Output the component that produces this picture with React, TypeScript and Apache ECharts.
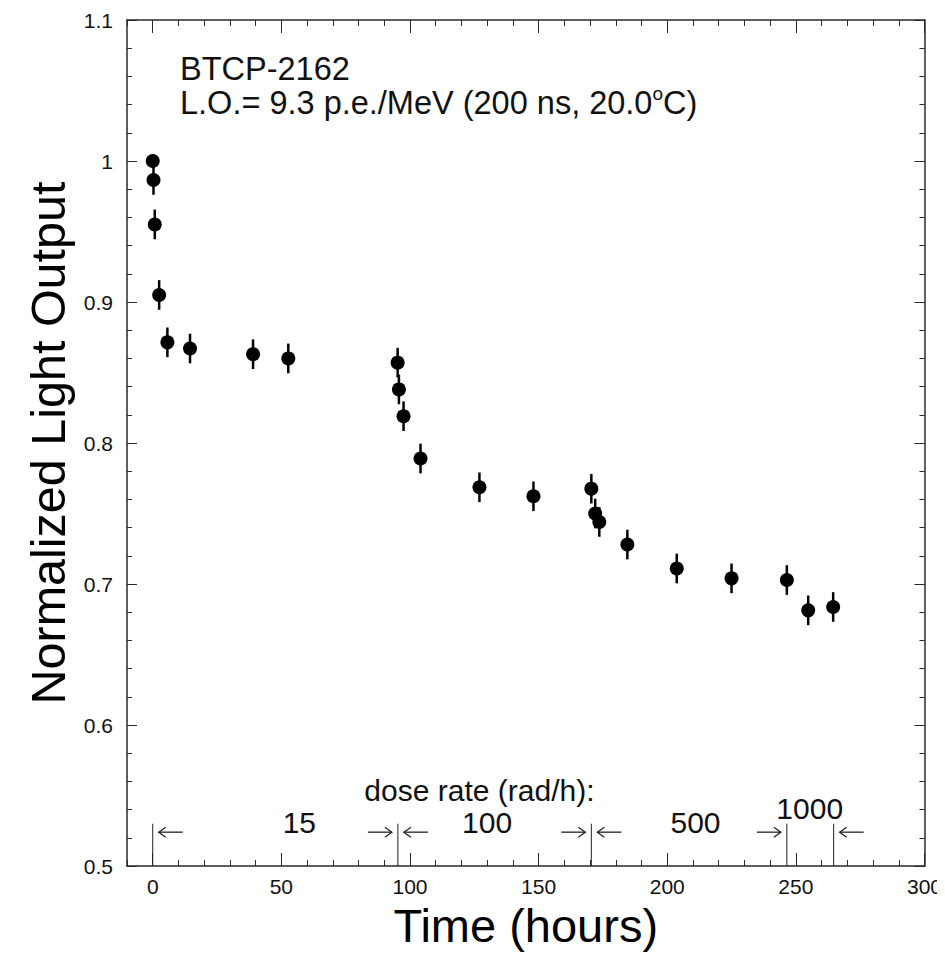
import React, { useEffect, useRef } from "react";
import * as echarts from "echarts";

// ---- data ----
const hours = [0, 0.3, 0.8, 2.5, 5.7, 14.5, 39, 52.7, 95.2, 95.7, 97.5, 104.1, 127, 148, 170.5, 172, 173.6, 184.5, 203.7, 225, 246.5, 254.8, 264.5];
const lightOutput = [1.0, 0.9865, 0.955, 0.905, 0.8714, 0.867, 0.863, 0.86, 0.857, 0.838, 0.819, 0.789, 0.7686, 0.7622, 0.7676, 0.75, 0.744, 0.728, 0.711, 0.704, 0.7028, 0.6813, 0.6837];
const errors = [0.004, 0.0105, 0.0105, 0.0105, 0.0105, 0.0105, 0.0105, 0.0105, 0.0105, 0.0105, 0.0105, 0.0105, 0.0105, 0.0105, 0.0105, 0.0105, 0.0105, 0.0105, 0.0105, 0.0105, 0.0105, 0.0105, 0.0105];

const doseBoundaries = [0, 95.3, 170.5, 246.5, 264.7];
const boundaryTop = 0.53;
const arrowX = [0, 95.3, 95.3, 170.5, 170.5, 246.5, 264.7];
const arrowSide = [1, -1, 1, -1, 1, -1, 1];
const arrowY = 0.524;

const doseLabels = ["dose rate (rad/h):", "15", "100", "500", "1000"];
const doseLabelX = [127, 57, 130, 211, 255.4];
const doseLabelY = [0.5535, 0.5305, 0.5305, 0.5305, 0.541];

const xMajorTicks = [0, 50, 100, 150, 200, 250, 300];
const yMajorTicks = [0.5, 0.6, 0.7, 0.8, 0.9, 1.0, 1.1];

const titleLine1 = "BTCP-2162";
const titleLine2 = ["L.O.= 9.3 p.e./MeV (200 ns, 20.0", "o", "C)"];

const FONT = "Liberation Sans";
const AX = "#2a2a2a";

export default function App() {
  const ref = useRef<HTMLDivElement>(null);
  useEffect(() => {
    if (!ref.current) return;
    const chart = echarts.init(ref.current, undefined, { renderer: "svg" });

    const xBase = { type: "value", min: -10, max: 300, splitLine: { show: false } };
    const yBase = { type: "value", min: 0.5, max: 1.1, splitLine: { show: false } };
    const lineOn = { show: true, onZero: false, lineStyle: { color: AX, width: 1.5 } };
    const lineOff = { show: false, onZero: false };

    const option: any = {
      animation: false,
      backgroundColor: "#fff",
      textStyle: { fontFamily: FONT },
      grid: { left: 127, right: 17, top: 20, bottom: 99, containLabel: false },
      xAxis: [
        {
          ...xBase,
          position: "bottom",
          interval: 10,
          axisLine: lineOn,
          axisTick: { show: true, inside: true, length: 6, lineStyle: { color: AX, width: 1 } },
          axisLabel: {
            show: true,
            formatter: (v: number) => (Math.abs(v % 50) < 1e-6 ? String(v) : ""),
            fontSize: 21,
            color: "#111",
            margin: 10,
            fontFamily: FONT,
          },
          name: "Time (hours)",
          nameLocation: "middle",
          nameGap: 32,
          nameTextStyle: { fontSize: 47, color: "#000", fontFamily: FONT },
        },
        {
          ...xBase,
          position: "bottom",
          axisLine: lineOff,
          axisTick: { show: true, inside: true, length: 13, customValues: xMajorTicks, lineStyle: { color: AX, width: 1 } },
          axisLabel: { show: false },
        },
        {
          ...xBase,
          position: "top",
          interval: 10,
          axisLine: lineOn,
          axisTick: { show: true, inside: true, length: 6, lineStyle: { color: AX, width: 1 } },
          axisLabel: { show: false },
        },
        {
          ...xBase,
          position: "top",
          axisLine: lineOff,
          axisTick: { show: true, inside: true, length: 13, customValues: xMajorTicks, lineStyle: { color: AX, width: 1 } },
          axisLabel: { show: false },
        },
      ],
      yAxis: [
        {
          ...yBase,
          position: "left",
          interval: 0.02,
          axisLine: lineOn,
          axisTick: { show: true, inside: true, length: 5, lineStyle: { color: AX, width: 1 } },
          axisLabel: {
            show: true,
            formatter: (v: number) => {
              const t = v * 10;
              return Math.abs(t - Math.round(t)) < 1e-6 ? String(Math.round(t) / 10) : "";
            },
            fontSize: 21,
            color: "#111",
            margin: 14,
            fontFamily: FONT,
          },
          name: "Normalized Light Output",
          nameLocation: "middle",
          nameGap: 54,
          nameTextStyle: { fontSize: 48.5, color: "#000", fontFamily: FONT },
        },
        {
          ...yBase,
          position: "left",
          axisLine: lineOff,
          axisTick: { show: true, inside: true, length: 10, customValues: yMajorTicks, lineStyle: { color: AX, width: 1 } },
          axisLabel: { show: false },
        },
        {
          ...yBase,
          position: "right",
          interval: 0.02,
          axisLine: lineOn,
          axisTick: { show: true, inside: true, length: 5, lineStyle: { color: AX, width: 1 } },
          axisLabel: { show: false },
        },
        {
          ...yBase,
          position: "right",
          axisLine: lineOff,
          axisTick: { show: true, inside: true, length: 10, customValues: yMajorTicks, lineStyle: { color: AX, width: 1 } },
          axisLabel: { show: false },
        },
      ],
      graphic: [
        {
          type: "text",
          left: 180,
          top: 52,
          style: { text: titleLine1, font: `32.5px "${FONT}"`, fill: "#111" },
        },
        {
          type: "text",
          left: 180,
          top: 84,
          style: {
            text: `{a|${titleLine2[0]}}{s|${titleLine2[1]}}{a|${titleLine2[2]}}`,
            fill: "#111",
            rich: {
              a: { fontSize: 32.5, fontFamily: FONT, fill: "#111", verticalAlign: "bottom" },
              s: { fontSize: 19, fontFamily: FONT, fill: "#111", verticalAlign: "top", padding: [0, 0, 16, 0] },
            },
          },
        },
      ],
      series: [
        {
          type: "custom",
          name: "errors",
          xAxisIndex: 0,
          yAxisIndex: 0,
          data: hours.map((h, i) => [h, lightOutput[i], errors[i]]),
          renderItem: (params: any, api: any) => {
            const x = api.value(0);
            const y = api.value(1);
            const e = api.value(2);
            const lo = api.coord([x, y - e]);
            const hi = api.coord([x, y + e]);
            return {
              type: "line",
              shape: { x1: lo[0], y1: lo[1], x2: hi[0], y2: hi[1] },
              style: { stroke: "#000", lineWidth: 2.5 },
            };
          },
          z: 2,
        },
        {
          type: "scatter",
          name: "data",
          xAxisIndex: 0,
          yAxisIndex: 0,
          data: hours.map((h, i) => [h, lightOutput[i]]),
          symbol: "circle",
          symbolSize: 14,
          itemStyle: { color: "#000", opacity: 1 },
          z: 3,
        },
        {
          type: "custom",
          name: "boundaries",
          xAxisIndex: 0,
          yAxisIndex: 0,
          data: doseBoundaries.map((b) => [b, boundaryTop]),
          renderItem: (params: any, api: any) => {
            const x = api.value(0);
            const top = api.coord([x, api.value(1)]);
            const bot = api.coord([x, 0.5]);
            return {
              type: "line",
              shape: { x1: top[0], y1: top[1], x2: bot[0], y2: bot[1] },
              style: { stroke: "#222", lineWidth: 1 },
            };
          },
        },
        {
          type: "custom",
          name: "arrows",
          xAxisIndex: 0,
          yAxisIndex: 0,
          data: arrowX.map((x, i) => [x, arrowY, arrowSide[i]]),
          renderItem: (params: any, api: any) => {
            const p = api.coord([api.value(0), api.value(1)]);
            const side = api.value(2);
            const gap = 6;
            const len = 24;
            const tipX = p[0] + side * gap;
            const tailX = p[0] + side * (gap + len);
            const y = p[1];
            return {
              type: "group",
              children: [
                {
                  type: "line",
                  shape: { x1: tipX, y1: y, x2: tailX, y2: y },
                  style: { stroke: "#222", lineWidth: 1.3 },
                },
                {
                  type: "polyline",
                  shape: { points: [[tipX + side * 7, y - 5], [tipX, y], [tipX + side * 7, y + 5]] },
                  style: { stroke: "#222", lineWidth: 1.3, fill: "none" },
                },
              ],
            };
          },
        },
        {
          type: "scatter",
          name: "doseLabels",
          xAxisIndex: 0,
          yAxisIndex: 0,
          symbolSize: 0,
          silent: true,
          itemStyle: { opacity: 1 },
          data: doseLabels.map((t, i) => ({ value: [doseLabelX[i], doseLabelY[i]], name: t })),
          label: {
            show: true,
            position: "inside",
            formatter: (p: any) => p.name,
            fontSize: 30,
            lineHeight: 28,
            fontFamily: FONT,
            color: "#111",
            opacity: 1,
          },
        },
      ],
    };
    chart.setOption(option);
    return () => chart.dispose();
  }, []);
  return <div ref={ref} style={{ width: 945, height: 965, marginLeft: -8, marginTop: -8 }} />;
}
